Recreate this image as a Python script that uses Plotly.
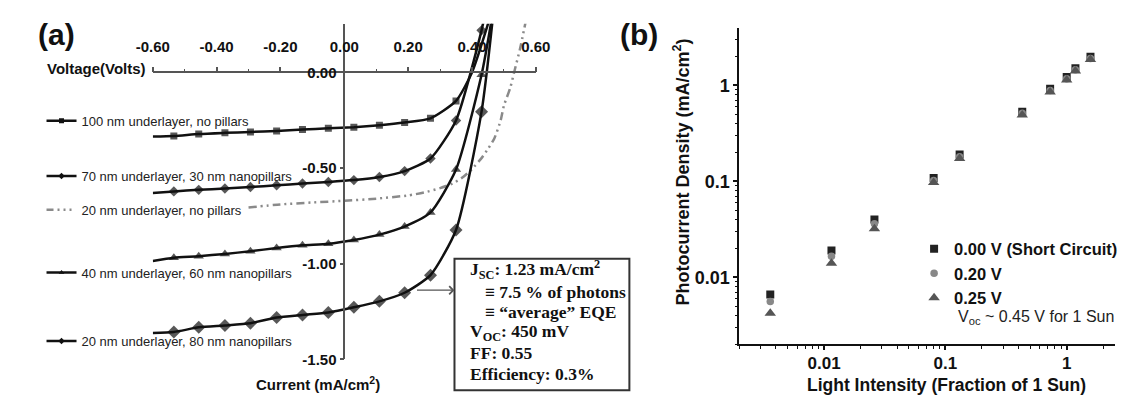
import plotly.graph_objects as go

W, H = 1130, 398

# ---------------- Panel (a): J-V curves (Voltage in V, Current in mA/cm^2) ----------------
V_MARK = [-0.534, -0.456, -0.374, -0.294, -0.212, -0.131, -0.050, 0.030, 0.110, 0.189, 0.270, 0.350, 0.430]

v_100nm = [-0.60, -0.534, -0.456, -0.374, -0.294, -0.212, -0.131, -0.050, 0.030, 0.110, 0.189, 0.270, 0.350, 0.400, 0.455]
j_100nm = [-0.335, -0.332, -0.322, -0.316, -0.311, -0.306, -0.299, -0.292, -0.286, -0.276, -0.262, -0.240, -0.149, 0.0, 0.28]

v_70nm = [-0.60, -0.534, -0.456, -0.374, -0.294, -0.212, -0.131, -0.050, 0.030, 0.110, 0.189, 0.270, 0.350, 0.430, 0.440]
j_70nm = [-0.630, -0.622, -0.614, -0.607, -0.599, -0.590, -0.581, -0.573, -0.563, -0.547, -0.516, -0.450, -0.251, 0.220, 0.30]

v_20nm_flat = [-0.30, -0.20, -0.10, 0.00, 0.10, 0.20, 0.25, 0.30, 0.34, 0.37, 0.40, 0.43, 0.45, 0.47, 0.49, 0.50, 0.52, 0.532, 0.55, 0.57]
j_20nm_flat = [-0.706, -0.690, -0.680, -0.671, -0.660, -0.643, -0.628, -0.605, -0.580, -0.550, -0.505, -0.448, -0.400, -0.345, -0.250, -0.174, -0.080, 0.0, 0.120, 0.28]

v_40nm = [-0.60, -0.534, -0.456, -0.374, -0.294, -0.212, -0.131, -0.050, 0.030, 0.110, 0.189, 0.270, 0.350, 0.430, 0.462]
j_40nm = [-0.986, -0.969, -0.961, -0.949, -0.935, -0.918, -0.904, -0.896, -0.876, -0.848, -0.806, -0.732, -0.508, -0.012, 0.28]

v_20nm = [-0.60, -0.534, -0.456, -0.374, -0.294, -0.212, -0.131, -0.050, 0.030, 0.110, 0.189, 0.270, 0.350, 0.430, 0.465]
j_20nm = [-1.362, -1.357, -1.333, -1.323, -1.311, -1.282, -1.268, -1.255, -1.228, -1.197, -1.152, -1.060, -0.824, -0.205, 0.28]

names_a = ["100 nm underlayer, no pillars",
           "70 nm underlayer, 30 nm nanopillars",
           "20 nm underlayer, no pillars",
           "40 nm underlayer, 60 nm nanopillars",
           "20 nm underlayer, 80 nm nanopillars"]

a_xticks = [-0.60, -0.40, -0.20, 0.00, 0.20, 0.40, 0.60]
a_yticks = [0.00, -0.50, -1.00, -1.50]

box_lines = ["J<sub>SC</sub>: 1.23 mA/cm<sup>2</sup>",
             "≡ 7.5 % of photons",
             "≡ “average” EQE",
             "V<sub>OC</sub>: 450 mV",
             "FF: 0.55",
             "Efficiency: 0.3%"]

# ---------------- Panel (b): photocurrent vs light intensity ----------------
intensity = [0.0036, 0.0115, 0.026, 0.080, 0.131, 0.43, 0.73, 1.0, 1.18, 1.57]
j_000V = [0.0066, 0.0190, 0.040, 0.108, 0.190, 0.53, 0.92, 1.22, 1.50, 1.98]
j_020V = [0.0056, 0.0165, 0.036, 0.102, 0.180, 0.51, 0.88, 1.17, 1.45, 1.90]
j_025V = [0.0042, 0.0140, 0.032, 0.097, 0.172, 0.49, 0.85, 1.13, 1.41, 1.85]
names_b = ["0.00 V (Short Circuit)", "0.20 V", "0.25 V"]
b_ticks = [0.01, 0.1, 1]
b_ticktext = ["0.01", "0.1", "1"]

# ---------------- helpers (layout in pixel space) ----------------
def fx(p):
    return p / W

def fy(p):
    return 1 - p / H

SANS = "Liberation Sans, Arial, sans-serif"
SERIF = "Liberation Serif, Times New Roman, serif"
AX = "#555555"
DASHDOT = "8px,4px,2px,4px,2px,4px"

a_xrange = [-0.60, 0.60]
a_yrange = [-1.50, 0.255]
a_xdom = [fx(131.5), fx(525.7)]
a_ydom = [fy(358.5), fy(16)]
a_xpos = a_ydom[0] + (0 - a_yrange[0]) / (a_yrange[1] - a_yrange[0]) * (a_ydom[1] - a_ydom[0])
a_ypos = a_xdom[0] + (0 - a_xrange[0]) / (a_xrange[1] - a_xrange[0]) * (a_xdom[1] - a_xdom[0])

fig = go.Figure()

curves = [
    (v_100nm, j_100nm, "square", 7, "solid", "#111111"),
    (v_70nm, j_70nm, "diamond", 8, "solid", "#111111"),
    (v_20nm_flat, j_20nm_flat, None, 0, DASHDOT, "#8a8a8a"),
    (v_40nm, j_40nm, "triangle-up", 9, "solid", "#111111"),
    (v_20nm, j_20nm, "diamond", 10, "solid", "#111111"),
]
legend_y = [115, 171.5, 206, 270, 340]

for i, (vs, js, sym, sz, dash, col) in enumerate(curves):
    lg = "legend" if i == 0 else f"legend{i + 1}"
    if sym:
        sizes = [sz if any(abs(v - m) < 1e-6 for m in V_MARK) else 0 for v in vs]
        fig.add_trace(go.Scatter(x=vs, y=js, mode="lines+markers", showlegend=False,
                                 line=dict(color=col, width=2.5, dash=dash, shape="spline", smoothing=0.6),
                                 marker=dict(symbol=sym, size=sizes, color=col, line=dict(width=0)),
                                 xaxis="x", yaxis="y", hoverinfo="skip"))
    else:
        fig.add_trace(go.Scatter(x=vs, y=js, mode="lines", showlegend=False,
                                 line=dict(color=col, width=2.5, dash=dash, shape="spline", smoothing=0.6),
                                 xaxis="x", yaxis="y", hoverinfo="skip"))
    # legend swatch
    fig.add_trace(go.Scatter(x=[None], y=[None], mode="lines+markers" if sym else "lines",
                             name=names_a[i], legend=lg,
                             line=dict(color=col, width=2.5,
                                       dash="solid" if sym else "7px,4px,2px,4px,2px,4px,2px,5px"),
                             marker=dict(symbol=sym or "circle", size=5, color=col),
                             xaxis="x", yaxis="y"))

b_series = [(j_000V, "square", 8, "#222222"),
            (j_020V, "circle", 7.5, "#888888"),
            (j_025V, "triangle-up", 10, "#555555")]
for (js, sym, sz, col), nm in zip(b_series, names_b):
    fig.add_trace(go.Scatter(x=intensity, y=js, mode="markers", name=nm, legend="legend6",
                             marker=dict(symbol=sym, size=sz, color=col, line=dict(width=0)),
                             xaxis="x2", yaxis="y2"))

minor_b = [k * 10 ** e for e in (-3, -2, -1, 0) for k in range(2, 10)]

legends = {}
for i, y in enumerate(legend_y):
    key = "legend" if i == 0 else f"legend{i + 1}"
    legends[key] = dict(x=fx(17), y=fy(y), xanchor="left", yanchor="middle",
                        bgcolor="rgba(0,0,0,0)", borderwidth=0, itemwidth=30,
                        font=dict(family=SANS, size=13, color="#222222"))
legends["legend6"] = dict(x=fx(915), y=fy(271), xanchor="left", yanchor="middle",
                          bgcolor="rgba(0,0,0,0)", borderwidth=0, itemwidth=30, tracegroupgap=0,
                          font=dict(family=SANS, size=16.5, color="#111111", weight="bold"))

annotations = [
    dict(text="(a)", x=fx(11), y=fy(27), xanchor="left", yanchor="middle",
         font=dict(family=SANS, size=30, color="#111", weight="bold")),
    dict(text="(b)", x=fx(610), y=fy(27), xanchor="left", yanchor="middle",
         font=dict(family=SANS, size=30, color="#111", weight="bold")),
    dict(text="Voltage(Volts)", x=fx(127), y=fy(62), xanchor="right", yanchor="middle",
         font=dict(family=SANS, size=15, color="#111", weight="bold")),
    dict(text="Current (mA/cm<sup>2</sup>)", x=fx(302), y=fy(383), xanchor="center", yanchor="middle",
         font=dict(family=SANS, size=15, color="#111", weight="bold")),
    dict(text="Photocurrent Density (mA/cm<sup>2</sup>)", x=fx(676), y=fy(167), textangle=-90,
         xanchor="center", yanchor="middle",
         font=dict(family=SANS, size=18, color="#111", weight="bold")),
    dict(text="Light Intensity (Fraction of 1 Sun)", x=fx(948), y=fy(385), xanchor="center", yanchor="middle",
         font=dict(family=SANS, size=17.5, color="#111", weight="bold")),
    dict(text="V<sub>oc</sub> ~ 0.45 V for 1 Sun", x=fx(958), y=fy(316), xanchor="left", yanchor="middle",
         font=dict(family=SANS, size=16, color="#222")),
    # arrow from curve to box
    dict(text="", x=fx(442), y=fy(288), ax=-39, ay=0, axref="pixel", ayref="pixel",
         showarrow=True, arrowhead=4, arrowsize=1.2, arrowwidth=1.3, arrowcolor="#555"),
]
box_y = [267, 290, 310.5, 331.5, 352, 373]
for k, line in enumerate(box_lines):
    indent = 471 if line.startswith("≡") else 456
    annotations.append(dict(text=line, x=fx(indent), y=fy(box_y[k]), xanchor="left", yanchor="middle",
                            font=dict(family=SERIF, size=17.5, color="#111", weight="bold")))
for a in annotations:
    a.setdefault("xref", "paper")
    a.setdefault("yref", "paper")
    a.setdefault("showarrow", False)

shapes = [dict(type="rect", xref="paper", yref="paper", x0=fx(442), x1=fx(622), y0=fy(256), y1=fy(390),
               line=dict(color="#333", width=2), fillcolor="rgba(0,0,0,0)")]

fig.update_layout(
    width=W, height=H, margin=dict(l=0, r=0, t=0, b=0),
    paper_bgcolor="white", plot_bgcolor="white", showlegend=True,
    xaxis=dict(domain=a_xdom, range=a_xrange, anchor="free", position=a_xpos, side="top",
               showline=True, linecolor=AX, linewidth=1.5, ticks="outside", ticklen=5, tickwidth=1.5,
               tickcolor=AX, tickvals=a_xticks, ticktext=[f"{v:.2f}" for v in a_xticks],
               ticklabelstandoff=9,
               minor=dict(ticks="outside", ticklen=3, dtick=0.1, tick0=0, tickcolor=AX, tickwidth=1.2),
               showgrid=False, zeroline=False,
               tickfont=dict(family=SANS, size=15, color="#111", weight="bold")),
    yaxis=dict(domain=a_ydom, range=a_yrange, anchor="free", position=a_ypos, side="left",
               showline=True, linecolor=AX, linewidth=1.5, ticks="outside", ticklen=4, tickwidth=1.5,
               tickcolor=AX, tickvals=a_yticks, ticktext=[f"{v:.2f}" for v in a_yticks],
               showgrid=False, zeroline=False,
               tickfont=dict(family=SANS, size=15, color="#111", weight="bold")),
    xaxis2=dict(domain=[fx(735), fx(1122)], type="log", range=[-2.7, 0.4], anchor="y2",
                showline=True, linecolor="#111", linewidth=1.5, ticks="outside", ticklen=4, tickwidth=1.5,
                tickcolor="#111", tickvals=b_ticks, ticktext=b_ticktext, ticklabelstandoff=-2,
                minor=dict(ticks="outside", ticklen=2.5, tickvals=minor_b, tickcolor="#111", tickwidth=1.2),
                showgrid=False, zeroline=False,
                tickfont=dict(family=SANS, size=17, color="#111", weight="bold")),
    yaxis2=dict(domain=[fy(343.3), fy(20)], type="log", range=[-2.7, 0.6], anchor="x2",
                showline=True, linecolor="#111", linewidth=1.5, ticks="outside", ticklen=4, tickwidth=1.5,
                tickcolor="#111", tickvals=b_ticks, ticktext=b_ticktext,
                minor=dict(ticks="outside", ticklen=2.5, tickvals=minor_b, tickcolor="#111", tickwidth=1.2),
                showgrid=False, zeroline=False,
                tickfont=dict(family=SANS, size=18, color="#111", weight="bold")),
    annotations=annotations, shapes=shapes,
    **legends,
)

fig.write_html("out.html")
